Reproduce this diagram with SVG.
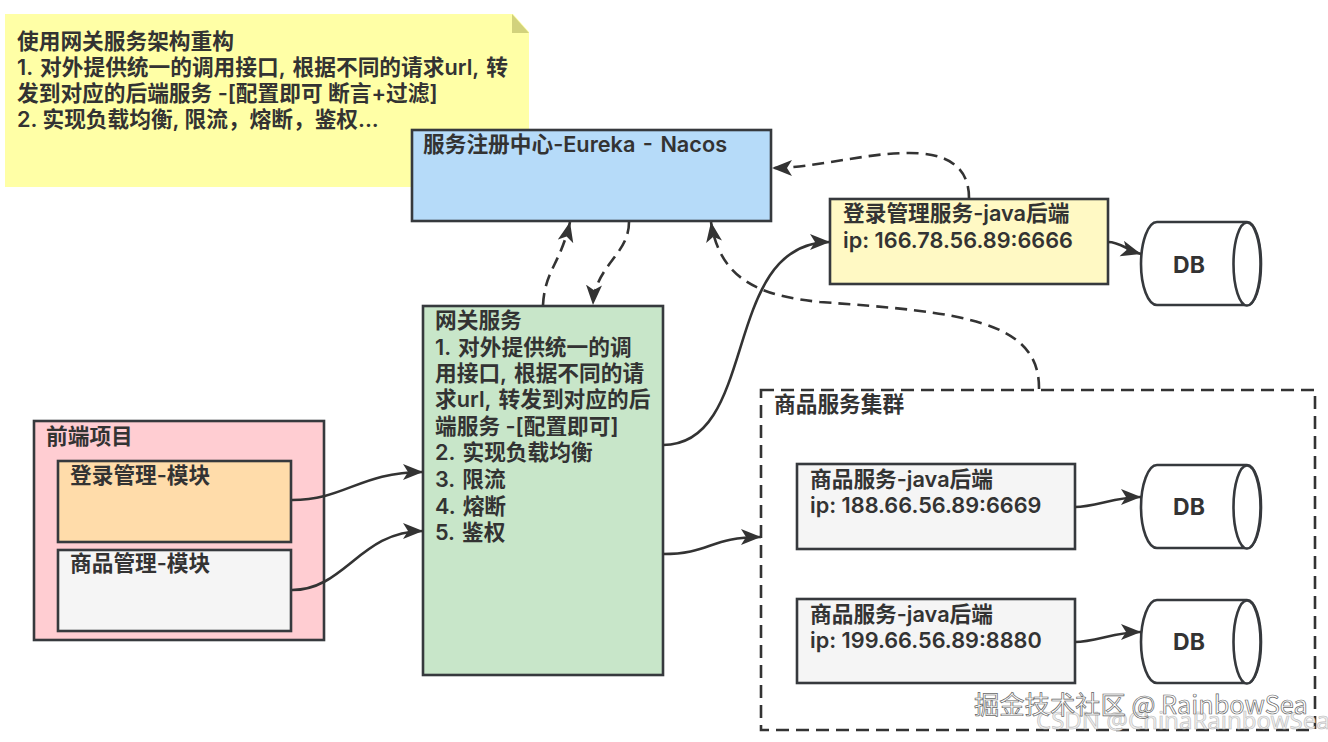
<svg xmlns="http://www.w3.org/2000/svg" width="1328" height="742" viewBox="0 0 1328 742">
<style>
text{font-family:Inter,"Noto Sans CJK SC",sans-serif;font-size:21.7px;font-weight:600;fill:#333}
.ws{word-spacing:2px}
.b{stroke:#36393d;stroke-width:2.6}
.c{fill:none;stroke:#333;stroke-width:2.6}
.d{stroke-dasharray:12 7}
.db{fill:#fff;stroke:#36393d;stroke-width:2.6}
.dbt{font-size:23px;font-weight:700;text-anchor:middle}
.w{font-family:"Noto Sans CJK SC",sans-serif;font-weight:400;font-size:25.300px;fill:#fff;stroke:#666;stroke-width:.7}
.w2{font-family:"Noto Sans",sans-serif;font-weight:400;font-size:24px;fill:#eee;stroke:#bbb;stroke-width:.6}
</style>
<defs>
<marker id="a" markerUnits="userSpaceOnUse" markerWidth="22" markerHeight="18" refX="20" refY="8" orient="auto"><path d="M0 0L20 8L0 16L5 8Z" fill="#333"/></marker>
</defs>
<rect width="1328" height="742" fill="#fff"/>
<g id="note">
<path d="M5 14H513L529 32V187H5Z" fill="#ffffa6"/>
<path d="M512 14L529 33H512Z" fill="#d2d27c"/>
<text x="17" y="49">使用网关服务架构重构</text>
<text class="ws" x="17" y="75">1. 对外提供统一的调用接口, 根据不同的请求url, 转</text>
<text x="17" y="101">发到对应的后端服务 -[配置即可 断言+过滤]</text>
<text x="17" y="127">2. 实现负载均衡, 限流，熔断，鉴权...</text>
</g>
<g id="registry">
<rect class="b" x="412" y="130" width="359" height="91" fill="#b6dbf9"/>
<text class="ws" x="423" y="152">服务注册中心-Eureka - Nacos</text>
</g>
<g id="login-service">
<rect class="b" x="830" y="199" width="278" height="85" fill="#fff9c4"/>
<text x="843" y="221">登录管理服务-java后端</text>
<text x="843" y="248">ip: 166.78.56.89:6666</text>
</g>
<g id="db1">
<path class="db" d="M1157 222H1247C1255 222 1261 241 1261 264S1255 305 1247 305H1157C1148 305 1141 286 1141 264S1148 222 1157 222Z"/>
<ellipse class="db" cx="1247" cy="264" rx="13.500" ry="41.500"/>
<text class="dbt" x="1189" y="273">DB</text>
</g>
<g id="gateway">
<rect class="b" x="423" y="306" width="240" height="369" fill="#c8e6c9"/>
<text x="435" y="328">网关服务</text>
<text class="ws" x="435" y="355">1. 对外提供统一的调</text>
<text class="ws" x="435" y="381">用接口, 根据不同的请</text>
<text class="ws" x="435" y="407">求url, 转发到对应的后</text>
<text x="435" y="434">端服务 -[配置即可]</text>
<text class="ws" x="435" y="460">2. 实现负载均衡</text>
<text class="ws" x="435" y="487">3. 限流</text>
<text class="ws" x="435" y="514">4. 熔断</text>
<text class="ws" x="435" y="540">5. 鉴权</text>
</g>
<g id="frontend">
<rect class="b" x="34" y="421" width="290" height="219" fill="#ffcdd2"/>
<text x="46" y="444">前端项目</text>
</g>
<g id="login-module">
<rect class="b" x="58" y="461" width="233" height="81" fill="#ffdcaa"/>
<text x="70" y="483">登录管理-模块</text>
</g>
<g id="product-module">
<rect class="b" x="58" y="550" width="233" height="81" fill="#f5f5f5"/>
<text x="70" y="571">商品管理-模块</text>
</g>
<g id="cluster">
<rect x="761" y="390" width="554" height="340" fill="none" stroke="#333" stroke-width="2.6" stroke-dasharray="13 7"/>
<text x="774" y="412">商品服务集群</text>
</g>
<g id="product-a">
<rect class="b" x="797" y="464" width="278" height="85" fill="#f5f5f5"/>
<text x="810" y="487">商品服务-java后端</text>
<text x="810" y="513">ip: 188.66.56.89:6669</text>
</g>
<g id="db2">
<path class="db" d="M1157 465H1247C1255 465 1261 484 1261 507S1255 548 1247 548H1157C1148 548 1141 529 1141 507S1148 465 1157 465Z"/>
<ellipse class="db" cx="1247" cy="507" rx="13.500" ry="41.500"/>
<text class="dbt" x="1189" y="515">DB</text>
</g>
<g id="product-b">
<rect class="b" x="797" y="599" width="278" height="84" fill="#f5f5f5"/>
<text x="810" y="622">商品服务-java后端</text>
<text x="810" y="648">ip: 199.66.56.89:8880</text>
</g>
<g id="db3">
<path class="db" d="M1157 600H1247C1255 600 1261 619 1261 642S1255 683 1247 683H1157C1148 683 1141 664 1141 642S1148 600 1157 600Z"/>
<ellipse class="db" cx="1247" cy="642" rx="13.500" ry="41.500"/>
<text class="dbt" x="1189" y="650">DB</text>
</g>
<g id="connectors">
<path class="c" marker-end="url(#a)" d="M292 500C345 500 360 472 423 472"/>
<path class="c" marker-end="url(#a)" d="M292 590C345 590 360 531 423 531"/>
<path class="c" marker-end="url(#a)" d="M663 445C760 445 720 242 830 242"/>
<path class="c" marker-end="url(#a)" d="M663 554C710 554 710 537 761 537"/>
<path class="c" marker-end="url(#a)" d="M1108 242C1120 242 1127 250 1141 254"/>
<path class="c" marker-end="url(#a)" d="M1075 507C1095 507 1115 497 1141 497"/>
<path class="c" marker-end="url(#a)" d="M1075 642C1095 642 1115 632 1141 632"/>
<path class="c d" marker-end="url(#a)" d="M543 305C545 270 560 265 570 222"/>
<path class="c d" marker-end="url(#a)" d="M629 222C629 255 595 265 593 305"/>
<path class="c d" marker-end="url(#a)" d="M969 198C969 165 945 152 905 153C860 154 815 168 772 168"/>
<path class="c d" marker-end="url(#a)" d="M1039 389C1040 320 960 312 820 302C760 296 720 280 711 222"/>
</g>
<text class="w2" x="1036" y="729">CSDN @ChinaRainbowSea</text>
<text class="w" x="974" y="714">掘金技术社区 @ RainbowSea</text>
</svg>
